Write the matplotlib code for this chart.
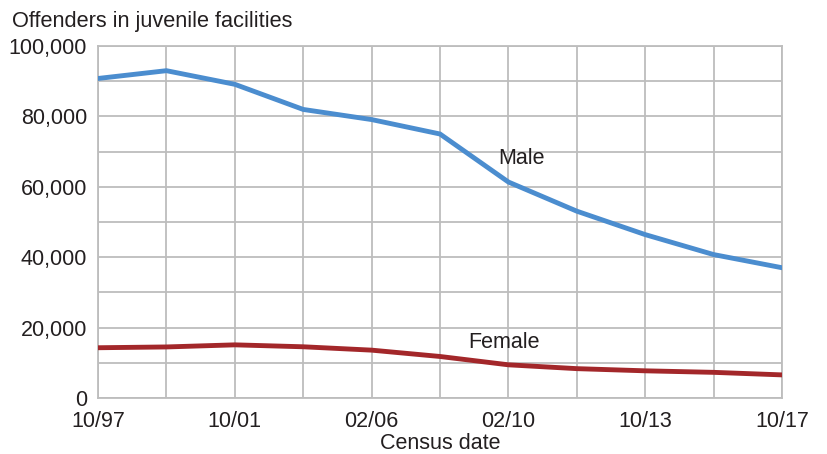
import matplotlib
matplotlib.use("Agg")
import matplotlib.pyplot as plt
from matplotlib.ticker import FuncFormatter, MultipleLocator

census_dates = ["10/97", "10/99", "10/01", "10/03", "02/06", "10/07",
                "02/10", "10/11", "10/13", "10/15", "10/17"]
male = [90771, 92985, 89115, 81975, 79100, 75000, 61359, 53079, 46421, 40750, 37010]
female = [14284, 14508, 15104, 14556, 13600, 11800, 9433, 8344, 7727, 7293, 6570]
shown_ticks = ["10/97", "10/01", "02/06", "02/10", "10/13", "10/17"]

plt.rcParams['font.family'] = ['Liberation Sans', 'DejaVu Sans']
text_color = "#231f20"
grid_color = "#bdbdbd"

fig = plt.figure(figsize=(8.27, 4.54), dpi=100)
ax = fig.add_axes([0.1185, 0.1233, 0.9456 - 0.1185, 0.8987 - 0.1233])

x = list(range(len(census_dates)))
ax.plot(x, male, color="#4b8dcf", lw=3.5, solid_joinstyle="miter", zorder=3)
ax.plot(x, female, color="#a3272a", lw=3.5, solid_joinstyle="miter", zorder=3)

ax.set_xlim(0, len(census_dates) - 1)
ax.set_ylim(0, 100000)
ax.set_xticks(x)
ax.set_xticklabels([d if d in shown_ticks else "" for d in census_dates])
ax.yaxis.set_major_locator(MultipleLocator(20000))
ax.yaxis.set_minor_locator(MultipleLocator(10000))
ax.yaxis.set_major_formatter(FuncFormatter(lambda v, p: f"{int(v):,}"))

ax.grid(True, which="both", color=grid_color, lw=1.3, zorder=1)
ax.set_axisbelow(True)
for s in ax.spines.values():
    s.set_color(grid_color)
    s.set_linewidth(1.3)

ax.tick_params(axis="both", which="both", length=0, labelsize=15.5, colors=text_color)
ax.tick_params(axis="y", pad=8)
ax.tick_params(axis="x", pad=9)

ax.set_xlabel("Census date", fontsize=15.5, color=text_color, labelpad=1)

fig.text(12 / 827, 1 - 21 / 454, "Offenders in juvenile facilities",
         fontsize=15.7, color=text_color, va="center", ha="left")

ax.text(5.85, 68100, "Male", fontsize=15.5, color=text_color, va="center", ha="left")
ax.text(5.42, 15700, "Female", fontsize=15.5, color=text_color, va="center", ha="left")

fig.savefig("out.png", dpi=100)
